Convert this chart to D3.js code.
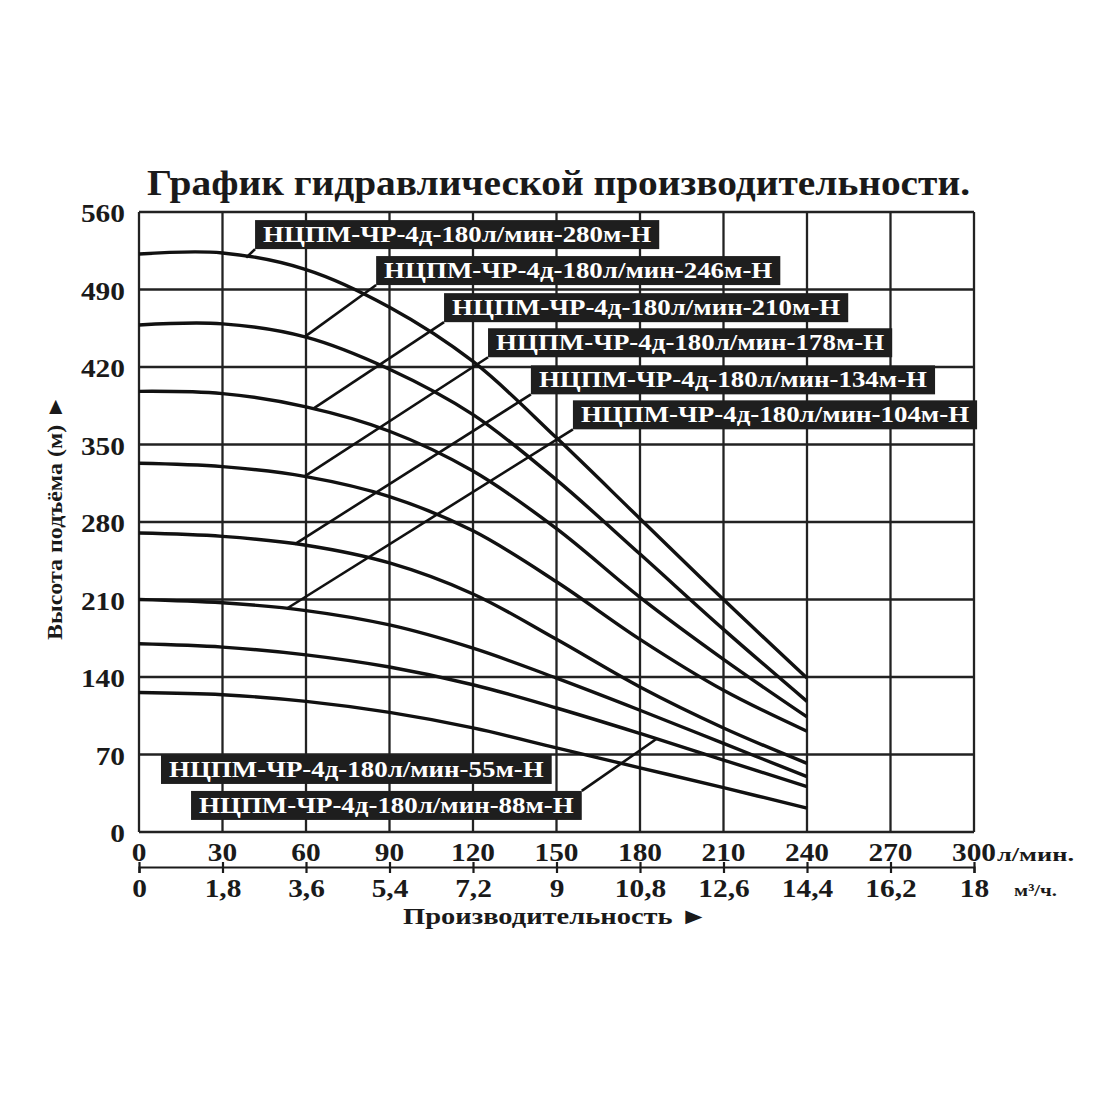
<!DOCTYPE html>
<html>
<head>
<meta charset="utf-8">
<script src="https://cdn.jsdelivr.net/npm/d3@7"></script>
<style>
  body { margin: 0; background: #fff; }
  svg { display: block; }
  text { font-family: "Liberation Serif", "DejaVu Serif", serif; font-weight: bold; fill: #1a1a1a; }
</style>
</head>
<body>
<svg width="1100" height="1100"></svg>
<script>
// flow, l/min
var flowLpm = [0, 30, 60, 90, 120, 150, 180, 210, 240];

// head, m
var head280 = [522, 523, 508, 474, 425, 356, 283, 210, 139];
var head246 = [458, 459, 447, 418, 377, 318, 251, 183, 118];
var head210 = [398, 396, 384, 362, 326, 274, 212, 156, 104];
var head178 = [333, 330, 321, 303, 272, 226, 174, 128, 91];
var head134 = [270, 267, 259, 243, 215, 174, 131, 94, 62];
var head104 = [210, 207, 200, 187, 166, 139, 110, 80, 50];
var head88 = [170, 167, 160, 149, 133, 112, 89, 65, 41];
var head55 = [126, 124, 118, 108, 94, 76, 58, 40, 21.5];

var models = [
  "НЦПМ-ЧР-4д-180л/мин-280м-Н",
  "НЦПМ-ЧР-4д-180л/мин-246м-Н",
  "НЦПМ-ЧР-4д-180л/мин-210м-Н",
  "НЦПМ-ЧР-4д-180л/мин-178м-Н",
  "НЦПМ-ЧР-4д-180л/мин-134м-Н",
  "НЦПМ-ЧР-4д-180л/мин-104м-Н",
  "НЦПМ-ЧР-4д-180л/мин-88м-Н",
  "НЦПМ-ЧР-4д-180л/мин-55м-Н"
];
var heads = [head280, head246, head210, head178, head134, head104, head88, head55];

var lpmTicks = [0, 30, 60, 90, 120, 150, 180, 210, 240, 270, 300];
var m3hTicks = ["0", "1,8", "3,6", "5,4", "7,2", "9", "10,8", "12,6", "14,4", "16,2", "18"];
var headTicks = [0, 70, 140, 210, 280, 350, 420, 490, 560];

var title = "График гидравлической производительности.";
var yTitle = "Высота подъёма (м) ►";
var xTitle = "Производительность ►";

// label placement: box bottom-left (q, h) in data units, leader target flow
var labelPos = [
  { q: 41.7, h: 526.5, to: 38.5 },
  { q: 85.2, h: 494, to: 59.5 },
  { q: 109.6, h: 460.5, to: 62.5 },
  { q: 125.4, h: 428.8, to: 59.5 },
  { q: 140.8, h: 395.3, to: 56 },
  { q: 155.9, h: 363.7, to: 53 },
  { q: 18.7, h: 10.9, to: 186, fromRight: true },
  { q: 7.9, h: 43.4 }
];

var svg = d3.select("svg");
var plotL = 139, plotR = 974, plotT = 212, plotB = 832;
var stretch = 1.13; // the source lettering is a bit wider than Liberation Serif

var x = d3.scaleLinear().domain([0, 300]).range([plotL, plotR]);
var x2 = d3.scaleLinear().domain([0, 18]).range([plotL, plotR]);
var y = d3.scaleLinear().domain([0, 560]).range([plotB, plotT]);

// title
svg.append("text")
  .attr("x", 147)
  .attr("y", 195)
  .attr("textLength", 823)
  .attr("lengthAdjust", "spacingAndGlyphs")
  .style("font-size", "35px")
  .text(title);

// grid
var grid = svg.append("g").attr("stroke", "#222").attr("stroke-width", 2.3);
grid.selectAll("line.v")
  .data(lpmTicks)
  .enter()
  .append("line")
  .attr("x1", function (d) { return x(d) })
  .attr("x2", function (d) { return x(d) })
  .attr("y1", y(0))
  .attr("y2", y(560));
grid.selectAll("line.h")
  .data(headTicks)
  .enter()
  .append("line")
  .attr("x1", x(0))
  .attr("x2", x(300))
  .attr("y1", function (d) { return y(d) })
  .attr("y2", function (d) { return y(d) });

// y tick labels
svg.append("g")
  .selectAll("text")
  .data(headTicks)
  .enter()
  .append("text")
  .attr("transform", function (d) {
    return "translate(125," + (y(d) + 10) + ") scale(" + stretch + ",1)"
  })
  .attr("text-anchor", "end")
  .style("font-size", "26px")
  .text(function (d) { return d });

// x tick labels, l/min
svg.append("g")
  .selectAll("text")
  .data(lpmTicks)
  .enter()
  .append("text")
  .attr("transform", function (d) {
    return "translate(" + x(d) + ",861) scale(" + stretch + ",1)"
  })
  .attr("text-anchor", "middle")
  .style("font-size", "26px")
  .text(function (d) { return d });

svg.append("text")
  .attr("x", 997)
  .attr("y", 861)
  .attr("textLength", 77)
  .attr("lengthAdjust", "spacingAndGlyphs")
  .style("font-size", "18px")
  .text("л/мин.");

// second axis, m3/h
var axis2 = d3.axisBottom(x2)
  .tickValues(d3.range(0, 18.01, 1.8))
  .tickSize(6)
  .tickFormat(function (d, i) { return m3hTicks[i] });

var ax = svg.append("g")
  .attr("transform", "translate(0,867)")
  .call(axis2);
ax.select(".domain").attr("stroke", "#1a1a1a").attr("stroke-width", 2.2);
ax.selectAll(".tick line")
  .attr("stroke", "#1a1a1a")
  .attr("stroke-width", 2.2)
  .attr("y1", -5)
  .attr("y2", 6);
ax.selectAll(".tick text")
  .attr("y", null)
  .attr("dy", null)
  .attr("transform", "translate(0,30) scale(" + stretch + ",1)")
  .style("font-size", "26px")
  .style("font-family", null)
  .attr("fill", "#1a1a1a");

svg.append("text")
  .attr("x", 1014)
  .attr("y", 896)
  .attr("textLength", 43)
  .attr("lengthAdjust", "spacingAndGlyphs")
  .style("font-size", "17px")
  .text("м³/ч.");

// axis titles
svg.append("text")
  .attr("x", 403)
  .attr("y", 924)
  .attr("textLength", 305)
  .attr("lengthAdjust", "spacingAndGlyphs")
  .style("font-size", "23px")
  .text(xTitle);

svg.append("text")
  .attr("transform", "translate(62,640) rotate(-90)")
  .attr("textLength", 245)
  .attr("lengthAdjust", "spacingAndGlyphs")
  .style("font-size", "22px")
  .text(yTitle);

// curves
var line = d3.line()
  .x(function (d) { return x(d[0]) })
  .y(function (d) { return y(d[1]) })
  .curve(d3.curveCatmullRom.alpha(0.5));

var series = heads.map(function (h) {
  return h.map(function (v, i) { return [flowLpm[i], v] });
});

function headAt(h, q) {
  var i = Math.min(Math.floor(q / 30), flowLpm.length - 2);
  var t = (q - flowLpm[i]) / 30;
  return h[i] + (h[i + 1] - h[i]) * t;
}

svg.append("g")
  .selectAll("path")
  .data(series)
  .enter()
  .append("path")
  .attr("d", line)
  .attr("fill", "none")
  .attr("stroke", "#111")
  .attr("stroke-width", 3.4);

// labels with leaders
var boxH = 29, pad = 8;
var lab = svg.append("g");
models.forEach(function (name, i) {
  var p = labelPos[i];
  var bx = x(p.q), by = y(p.h);
  var g = lab.append("g");
  var rect = g.append("rect")
    .attr("x", bx)
    .attr("y", by - boxH)
    .attr("height", boxH)
    .attr("fill", "#1e1e1e");
  var t = g.append("text")
    .attr("x", bx + pad)
    .attr("y", by - 7)
    .style("font-size", "23px")
    .style("fill", "#fff")
    .text(name);
  var tw = t.node().getComputedTextLength() * 1.17;
  t.attr("textLength", tw).attr("lengthAdjust", "spacingAndGlyphs");
  var w = tw + pad * 2;
  rect.attr("width", w);

  if (p.to != null) {
    var sx = p.fromRight ? bx + w : bx;
    var sy = p.fromRight ? by - boxH : by;
    lab.insert("line", ":first-child")
      .attr("x1", sx)
      .attr("y1", sy)
      .attr("x2", x(p.to))
      .attr("y2", y(headAt(heads[i], p.to)))
      .attr("stroke", "#111")
      .attr("stroke-width", 2.6);
  }
});
</script>
</body>
</html>
